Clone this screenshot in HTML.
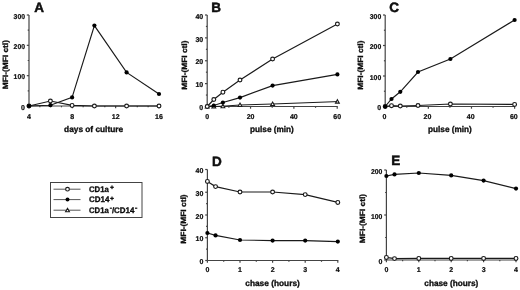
<!DOCTYPE html>
<html><head><meta charset="utf-8"><style>
html,body{margin:0;padding:0;background:#fff;}
svg{display:block;will-change:transform;}
text{font-family:"Liberation Sans",sans-serif;fill:#111;text-rendering:geometricPrecision;}
</style></head><body>
<svg width="520" height="290" viewBox="0 0 520 290">
<rect width="520" height="290" fill="#fff"/>
<text x="34.30" y="11.60" font-size="13.5" text-anchor="start" font-weight="bold" stroke="#000" stroke-width="0.45">A</text>
<line x1="29.00" y1="15.00" x2="29.00" y2="106.00" stroke="#444" stroke-width="1.2"/>
<line x1="26.80" y1="106.00" x2="29.00" y2="106.00" stroke="#444" stroke-width="1.2"/>
<line x1="26.80" y1="75.67" x2="29.00" y2="75.67" stroke="#444" stroke-width="1.2"/>
<line x1="26.80" y1="45.33" x2="29.00" y2="45.33" stroke="#444" stroke-width="1.2"/>
<line x1="26.80" y1="15.00" x2="29.00" y2="15.00" stroke="#444" stroke-width="1.2"/>
<line x1="27.70" y1="90.83" x2="29.00" y2="90.83" stroke="#444" stroke-width="1.2"/>
<line x1="27.70" y1="60.50" x2="29.00" y2="60.50" stroke="#444" stroke-width="1.2"/>
<line x1="27.70" y1="30.17" x2="29.00" y2="30.17" stroke="#444" stroke-width="1.2"/>
<line x1="29.00" y1="106.00" x2="159.46" y2="106.00" stroke="#444" stroke-width="1.2"/>
<line x1="29.00" y1="106.00" x2="29.00" y2="108.20" stroke="#444" stroke-width="1.2"/>
<line x1="72.32" y1="106.00" x2="72.32" y2="108.20" stroke="#444" stroke-width="1.2"/>
<line x1="115.64" y1="106.00" x2="115.64" y2="108.20" stroke="#444" stroke-width="1.2"/>
<line x1="158.96" y1="106.00" x2="158.96" y2="108.20" stroke="#444" stroke-width="1.2"/>
<line x1="39.83" y1="106.00" x2="39.83" y2="107.30" stroke="#444" stroke-width="1.2"/>
<line x1="50.66" y1="106.00" x2="50.66" y2="107.30" stroke="#444" stroke-width="1.2"/>
<line x1="61.49" y1="106.00" x2="61.49" y2="107.30" stroke="#444" stroke-width="1.2"/>
<line x1="83.15" y1="106.00" x2="83.15" y2="107.30" stroke="#444" stroke-width="1.2"/>
<line x1="93.98" y1="106.00" x2="93.98" y2="107.30" stroke="#444" stroke-width="1.2"/>
<line x1="104.81" y1="106.00" x2="104.81" y2="107.30" stroke="#444" stroke-width="1.2"/>
<line x1="126.47" y1="106.00" x2="126.47" y2="107.30" stroke="#444" stroke-width="1.2"/>
<line x1="137.30" y1="106.00" x2="137.30" y2="107.30" stroke="#444" stroke-width="1.2"/>
<line x1="148.13" y1="106.00" x2="148.13" y2="107.30" stroke="#444" stroke-width="1.2"/>
<text x="25.00" y="109.70" font-size="7.0" text-anchor="end" font-weight="bold" stroke="#000" stroke-width="0.22">0</text>
<text x="25.00" y="79.37" font-size="7.0" text-anchor="end" font-weight="bold" textLength="11.4" lengthAdjust="spacingAndGlyphs" stroke="#000" stroke-width="0.22">100</text>
<text x="25.00" y="49.03" font-size="7.0" text-anchor="end" font-weight="bold" textLength="11.4" lengthAdjust="spacingAndGlyphs" stroke="#000" stroke-width="0.22">200</text>
<text x="25.00" y="18.70" font-size="7.0" text-anchor="end" font-weight="bold" textLength="11.4" lengthAdjust="spacingAndGlyphs" stroke="#000" stroke-width="0.22">300</text>
<text x="29.00" y="118.80" font-size="7.0" text-anchor="middle" font-weight="bold" stroke="#000" stroke-width="0.22">4</text>
<text x="72.32" y="118.80" font-size="7.0" text-anchor="middle" font-weight="bold" stroke="#000" stroke-width="0.22">8</text>
<text x="115.64" y="118.80" font-size="7.0" text-anchor="middle" font-weight="bold" textLength="7.8" lengthAdjust="spacingAndGlyphs" stroke="#000" stroke-width="0.22">12</text>
<text x="158.96" y="118.80" font-size="7.0" text-anchor="middle" font-weight="bold" textLength="7.8" lengthAdjust="spacingAndGlyphs" stroke="#000" stroke-width="0.22">16</text>
<text x="64.10" y="132.20" font-size="8.3" text-anchor="start" font-weight="bold" textLength="59" lengthAdjust="spacingAndGlyphs" stroke="#000" stroke-width="0.3">days of culture</text>
<text transform="translate(7.60,64.65) rotate(-90)" font-size="7.6" font-weight="bold" stroke="#000" stroke-width="0.3" text-anchor="middle" textLength="49.2" lengthAdjust="spacingAndGlyphs">MFI-(MFI ctl)</text>
<polyline points="29.00,106.00 50.40,101.00 72.10,105.40 94.40,106.00 126.60,106.00 159.00,106.00" fill="none" stroke="#1a1a1a" stroke-width="1.15"/>
<polyline points="29.00,106.00 50.40,105.20 72.10,97.40 94.40,25.60 126.60,72.40 159.00,94.00" fill="none" stroke="#1a1a1a" stroke-width="1.15"/>
<circle cx="29.00" cy="106.00" r="1.9" fill="#fff" stroke="#1a1a1a" stroke-width="1.15"/>
<circle cx="50.40" cy="101.00" r="1.9" fill="#fff" stroke="#1a1a1a" stroke-width="1.15"/>
<circle cx="72.10" cy="105.40" r="1.9" fill="#fff" stroke="#1a1a1a" stroke-width="1.15"/>
<circle cx="94.40" cy="106.00" r="1.9" fill="#fff" stroke="#1a1a1a" stroke-width="1.15"/>
<circle cx="126.60" cy="106.00" r="1.9" fill="#fff" stroke="#1a1a1a" stroke-width="1.15"/>
<circle cx="159.00" cy="106.00" r="1.9" fill="#fff" stroke="#1a1a1a" stroke-width="1.15"/>
<circle cx="29.00" cy="106.00" r="2.1" fill="#000"/>
<circle cx="50.40" cy="105.20" r="2.1" fill="#000"/>
<circle cx="72.10" cy="97.40" r="2.1" fill="#000"/>
<circle cx="94.40" cy="25.60" r="2.1" fill="#000"/>
<circle cx="126.60" cy="72.40" r="2.1" fill="#000"/>
<circle cx="159.00" cy="94.00" r="2.1" fill="#000"/>
<text x="211.30" y="11.60" font-size="13.5" text-anchor="start" font-weight="bold" stroke="#000" stroke-width="0.45">B</text>
<line x1="207.20" y1="15.00" x2="207.20" y2="106.50" stroke="#444" stroke-width="1.2"/>
<line x1="205.00" y1="106.50" x2="207.20" y2="106.50" stroke="#444" stroke-width="1.2"/>
<line x1="205.00" y1="83.62" x2="207.20" y2="83.62" stroke="#444" stroke-width="1.2"/>
<line x1="205.00" y1="60.75" x2="207.20" y2="60.75" stroke="#444" stroke-width="1.2"/>
<line x1="205.00" y1="37.88" x2="207.20" y2="37.88" stroke="#444" stroke-width="1.2"/>
<line x1="205.00" y1="15.00" x2="207.20" y2="15.00" stroke="#444" stroke-width="1.2"/>
<line x1="205.90" y1="95.06" x2="207.20" y2="95.06" stroke="#444" stroke-width="1.2"/>
<line x1="205.90" y1="72.19" x2="207.20" y2="72.19" stroke="#444" stroke-width="1.2"/>
<line x1="205.90" y1="49.31" x2="207.20" y2="49.31" stroke="#444" stroke-width="1.2"/>
<line x1="205.90" y1="26.44" x2="207.20" y2="26.44" stroke="#444" stroke-width="1.2"/>
<line x1="207.20" y1="106.50" x2="337.72" y2="106.50" stroke="#444" stroke-width="1.2"/>
<line x1="207.20" y1="106.50" x2="207.20" y2="108.70" stroke="#444" stroke-width="1.2"/>
<line x1="250.54" y1="106.50" x2="250.54" y2="108.70" stroke="#444" stroke-width="1.2"/>
<line x1="293.88" y1="106.50" x2="293.88" y2="108.70" stroke="#444" stroke-width="1.2"/>
<line x1="337.22" y1="106.50" x2="337.22" y2="108.70" stroke="#444" stroke-width="1.2"/>
<line x1="228.87" y1="106.50" x2="228.87" y2="107.80" stroke="#444" stroke-width="1.2"/>
<line x1="272.21" y1="106.50" x2="272.21" y2="107.80" stroke="#444" stroke-width="1.2"/>
<line x1="315.55" y1="106.50" x2="315.55" y2="107.80" stroke="#444" stroke-width="1.2"/>
<text x="203.20" y="110.20" font-size="7.0" text-anchor="end" font-weight="bold" stroke="#000" stroke-width="0.22">0</text>
<text x="203.20" y="87.33" font-size="7.0" text-anchor="end" font-weight="bold" textLength="7.8" lengthAdjust="spacingAndGlyphs" stroke="#000" stroke-width="0.22">10</text>
<text x="203.20" y="64.45" font-size="7.0" text-anchor="end" font-weight="bold" textLength="7.8" lengthAdjust="spacingAndGlyphs" stroke="#000" stroke-width="0.22">20</text>
<text x="203.20" y="41.58" font-size="7.0" text-anchor="end" font-weight="bold" textLength="7.8" lengthAdjust="spacingAndGlyphs" stroke="#000" stroke-width="0.22">30</text>
<text x="203.20" y="18.70" font-size="7.0" text-anchor="end" font-weight="bold" textLength="7.8" lengthAdjust="spacingAndGlyphs" stroke="#000" stroke-width="0.22">40</text>
<text x="207.20" y="118.70" font-size="7.0" text-anchor="middle" font-weight="bold" stroke="#000" stroke-width="0.22">0</text>
<text x="250.54" y="118.70" font-size="7.0" text-anchor="middle" font-weight="bold" textLength="7.8" lengthAdjust="spacingAndGlyphs" stroke="#000" stroke-width="0.22">20</text>
<text x="293.88" y="118.70" font-size="7.0" text-anchor="middle" font-weight="bold" textLength="7.8" lengthAdjust="spacingAndGlyphs" stroke="#000" stroke-width="0.22">40</text>
<text x="337.22" y="118.70" font-size="7.0" text-anchor="middle" font-weight="bold" textLength="7.8" lengthAdjust="spacingAndGlyphs" stroke="#000" stroke-width="0.22">60</text>
<text x="250.00" y="132.40" font-size="8.3" text-anchor="start" font-weight="bold" textLength="43.8" lengthAdjust="spacingAndGlyphs" stroke="#000" stroke-width="0.3">pulse (min)</text>
<text transform="translate(187.00,65.15) rotate(-90)" font-size="7.6" font-weight="bold" stroke="#000" stroke-width="0.3" text-anchor="middle" textLength="49.2" lengthAdjust="spacingAndGlyphs">MFI-(MFI ctl)</text>
<polyline points="207.20,106.50 213.80,106.50 222.90,106.20 240.00,105.00 272.60,104.00 337.40,101.60" fill="none" stroke="#1a1a1a" stroke-width="1.0"/>
<polyline points="207.20,106.50 213.80,105.50 222.90,102.50 240.00,97.60 272.60,85.60 337.40,74.40" fill="none" stroke="#1a1a1a" stroke-width="1.15"/>
<polyline points="207.20,106.50 213.80,99.50 222.90,92.20 240.00,80.00 272.60,59.00 337.40,24.00" fill="none" stroke="#1a1a1a" stroke-width="1.15"/>
<path d="M207.20 104.60 L209.10 108.02 L205.30 108.02 Z" fill="#fff" stroke="#1a1a1a" stroke-width="1.1"/>
<path d="M213.80 104.60 L215.70 108.02 L211.90 108.02 Z" fill="#fff" stroke="#1a1a1a" stroke-width="1.1"/>
<path d="M222.90 104.30 L224.80 107.72 L221.00 107.72 Z" fill="#fff" stroke="#1a1a1a" stroke-width="1.1"/>
<path d="M240.00 103.10 L241.90 106.52 L238.10 106.52 Z" fill="#fff" stroke="#1a1a1a" stroke-width="1.1"/>
<path d="M272.60 102.10 L274.50 105.52 L270.70 105.52 Z" fill="#fff" stroke="#1a1a1a" stroke-width="1.1"/>
<path d="M337.40 99.70 L339.30 103.12 L335.50 103.12 Z" fill="#fff" stroke="#1a1a1a" stroke-width="1.1"/>
<circle cx="207.20" cy="106.50" r="2.1" fill="#000"/>
<circle cx="213.80" cy="105.50" r="2.1" fill="#000"/>
<circle cx="222.90" cy="102.50" r="2.1" fill="#000"/>
<circle cx="240.00" cy="97.60" r="2.1" fill="#000"/>
<circle cx="272.60" cy="85.60" r="2.1" fill="#000"/>
<circle cx="337.40" cy="74.40" r="2.1" fill="#000"/>
<circle cx="207.20" cy="106.50" r="1.9" fill="#fff" stroke="#1a1a1a" stroke-width="1.15"/>
<circle cx="213.80" cy="99.50" r="1.9" fill="#fff" stroke="#1a1a1a" stroke-width="1.15"/>
<circle cx="222.90" cy="92.20" r="1.9" fill="#fff" stroke="#1a1a1a" stroke-width="1.15"/>
<circle cx="240.00" cy="80.00" r="1.9" fill="#fff" stroke="#1a1a1a" stroke-width="1.15"/>
<circle cx="272.60" cy="59.00" r="1.9" fill="#fff" stroke="#1a1a1a" stroke-width="1.15"/>
<circle cx="337.40" cy="24.00" r="1.9" fill="#fff" stroke="#1a1a1a" stroke-width="1.15"/>
<text x="389.30" y="11.70" font-size="13.5" text-anchor="start" font-weight="bold" stroke="#000" stroke-width="0.45">C</text>
<line x1="385.20" y1="15.00" x2="385.20" y2="106.50" stroke="#444" stroke-width="1.2"/>
<line x1="383.00" y1="106.50" x2="385.20" y2="106.50" stroke="#444" stroke-width="1.2"/>
<line x1="383.00" y1="76.00" x2="385.20" y2="76.00" stroke="#444" stroke-width="1.2"/>
<line x1="383.00" y1="45.50" x2="385.20" y2="45.50" stroke="#444" stroke-width="1.2"/>
<line x1="383.00" y1="15.00" x2="385.20" y2="15.00" stroke="#444" stroke-width="1.2"/>
<line x1="383.90" y1="91.25" x2="385.20" y2="91.25" stroke="#444" stroke-width="1.2"/>
<line x1="383.90" y1="60.75" x2="385.20" y2="60.75" stroke="#444" stroke-width="1.2"/>
<line x1="383.90" y1="30.25" x2="385.20" y2="30.25" stroke="#444" stroke-width="1.2"/>
<line x1="385.20" y1="106.50" x2="515.12" y2="106.50" stroke="#444" stroke-width="1.2"/>
<line x1="385.20" y1="106.50" x2="385.20" y2="108.70" stroke="#444" stroke-width="1.2"/>
<line x1="428.34" y1="106.50" x2="428.34" y2="108.70" stroke="#444" stroke-width="1.2"/>
<line x1="471.48" y1="106.50" x2="471.48" y2="108.70" stroke="#444" stroke-width="1.2"/>
<line x1="514.62" y1="106.50" x2="514.62" y2="108.70" stroke="#444" stroke-width="1.2"/>
<line x1="406.77" y1="106.50" x2="406.77" y2="107.80" stroke="#444" stroke-width="1.2"/>
<line x1="449.91" y1="106.50" x2="449.91" y2="107.80" stroke="#444" stroke-width="1.2"/>
<line x1="493.05" y1="106.50" x2="493.05" y2="107.80" stroke="#444" stroke-width="1.2"/>
<text x="381.20" y="110.20" font-size="7.0" text-anchor="end" font-weight="bold" stroke="#000" stroke-width="0.22">0</text>
<text x="381.20" y="79.70" font-size="7.0" text-anchor="end" font-weight="bold" textLength="11.4" lengthAdjust="spacingAndGlyphs" stroke="#000" stroke-width="0.22">100</text>
<text x="381.20" y="49.20" font-size="7.0" text-anchor="end" font-weight="bold" textLength="11.4" lengthAdjust="spacingAndGlyphs" stroke="#000" stroke-width="0.22">200</text>
<text x="381.20" y="18.70" font-size="7.0" text-anchor="end" font-weight="bold" textLength="11.4" lengthAdjust="spacingAndGlyphs" stroke="#000" stroke-width="0.22">300</text>
<text x="384.40" y="118.50" font-size="7.0" text-anchor="middle" font-weight="bold" stroke="#000" stroke-width="0.22">0</text>
<text x="427.54" y="118.50" font-size="7.0" text-anchor="middle" font-weight="bold" textLength="7.8" lengthAdjust="spacingAndGlyphs" stroke="#000" stroke-width="0.22">20</text>
<text x="470.68" y="118.50" font-size="7.0" text-anchor="middle" font-weight="bold" textLength="7.8" lengthAdjust="spacingAndGlyphs" stroke="#000" stroke-width="0.22">40</text>
<text x="513.82" y="118.50" font-size="7.0" text-anchor="middle" font-weight="bold" textLength="7.8" lengthAdjust="spacingAndGlyphs" stroke="#000" stroke-width="0.22">60</text>
<text x="428.00" y="132.40" font-size="8.3" text-anchor="start" font-weight="bold" textLength="43.8" lengthAdjust="spacingAndGlyphs" stroke="#000" stroke-width="0.3">pulse (min)</text>
<text transform="translate(363.40,65.15) rotate(-90)" font-size="7.6" font-weight="bold" stroke="#000" stroke-width="0.3" text-anchor="middle" textLength="49.2" lengthAdjust="spacingAndGlyphs">MFI-(MFI ctl)</text>
<polyline points="385.20,106.50 391.50,105.70 400.30,106.00 418.00,105.50 450.40,104.00 514.60,104.40" fill="none" stroke="#1a1a1a" stroke-width="1.15"/>
<polyline points="385.20,106.50 391.50,99.00 400.30,91.80 418.00,72.00 450.40,59.00 514.60,20.00" fill="none" stroke="#1a1a1a" stroke-width="1.15"/>
<circle cx="385.20" cy="106.50" r="1.9" fill="#fff" stroke="#1a1a1a" stroke-width="1.15"/>
<circle cx="391.50" cy="105.70" r="1.9" fill="#fff" stroke="#1a1a1a" stroke-width="1.15"/>
<circle cx="400.30" cy="106.00" r="1.9" fill="#fff" stroke="#1a1a1a" stroke-width="1.15"/>
<circle cx="418.00" cy="105.50" r="1.9" fill="#fff" stroke="#1a1a1a" stroke-width="1.15"/>
<circle cx="450.40" cy="104.00" r="1.9" fill="#fff" stroke="#1a1a1a" stroke-width="1.15"/>
<circle cx="514.60" cy="104.40" r="1.9" fill="#fff" stroke="#1a1a1a" stroke-width="1.15"/>
<circle cx="385.20" cy="106.50" r="2.1" fill="#000"/>
<circle cx="391.50" cy="99.00" r="2.1" fill="#000"/>
<circle cx="400.30" cy="91.80" r="2.1" fill="#000"/>
<circle cx="418.00" cy="72.00" r="2.1" fill="#000"/>
<circle cx="450.40" cy="59.00" r="2.1" fill="#000"/>
<circle cx="514.60" cy="20.00" r="2.1" fill="#000"/>
<text x="212.00" y="165.80" font-size="13.5" text-anchor="start" font-weight="bold" stroke="#000" stroke-width="0.45">D</text>
<line x1="207.40" y1="169.50" x2="207.40" y2="260.50" stroke="#444" stroke-width="1.2"/>
<line x1="205.20" y1="260.50" x2="207.40" y2="260.50" stroke="#444" stroke-width="1.2"/>
<line x1="205.20" y1="237.75" x2="207.40" y2="237.75" stroke="#444" stroke-width="1.2"/>
<line x1="205.20" y1="215.00" x2="207.40" y2="215.00" stroke="#444" stroke-width="1.2"/>
<line x1="205.20" y1="192.25" x2="207.40" y2="192.25" stroke="#444" stroke-width="1.2"/>
<line x1="205.20" y1="169.50" x2="207.40" y2="169.50" stroke="#444" stroke-width="1.2"/>
<line x1="206.10" y1="249.12" x2="207.40" y2="249.12" stroke="#444" stroke-width="1.2"/>
<line x1="206.10" y1="226.38" x2="207.40" y2="226.38" stroke="#444" stroke-width="1.2"/>
<line x1="206.10" y1="203.62" x2="207.40" y2="203.62" stroke="#444" stroke-width="1.2"/>
<line x1="206.10" y1="180.88" x2="207.40" y2="180.88" stroke="#444" stroke-width="1.2"/>
<line x1="207.40" y1="260.50" x2="338.30" y2="260.50" stroke="#444" stroke-width="1.2"/>
<line x1="207.40" y1="260.50" x2="207.40" y2="262.70" stroke="#444" stroke-width="1.2"/>
<line x1="240.00" y1="260.50" x2="240.00" y2="262.70" stroke="#444" stroke-width="1.2"/>
<line x1="272.60" y1="260.50" x2="272.60" y2="262.70" stroke="#444" stroke-width="1.2"/>
<line x1="305.20" y1="260.50" x2="305.20" y2="262.70" stroke="#444" stroke-width="1.2"/>
<line x1="337.80" y1="260.50" x2="337.80" y2="262.70" stroke="#444" stroke-width="1.2"/>
<line x1="223.70" y1="260.50" x2="223.70" y2="261.80" stroke="#444" stroke-width="1.2"/>
<line x1="256.30" y1="260.50" x2="256.30" y2="261.80" stroke="#444" stroke-width="1.2"/>
<line x1="288.90" y1="260.50" x2="288.90" y2="261.80" stroke="#444" stroke-width="1.2"/>
<line x1="321.50" y1="260.50" x2="321.50" y2="261.80" stroke="#444" stroke-width="1.2"/>
<text x="203.40" y="264.20" font-size="7.0" text-anchor="end" font-weight="bold" stroke="#000" stroke-width="0.22">0</text>
<text x="203.40" y="241.45" font-size="7.0" text-anchor="end" font-weight="bold" textLength="7.8" lengthAdjust="spacingAndGlyphs" stroke="#000" stroke-width="0.22">10</text>
<text x="203.40" y="218.70" font-size="7.0" text-anchor="end" font-weight="bold" textLength="7.8" lengthAdjust="spacingAndGlyphs" stroke="#000" stroke-width="0.22">20</text>
<text x="203.40" y="195.95" font-size="7.0" text-anchor="end" font-weight="bold" textLength="7.8" lengthAdjust="spacingAndGlyphs" stroke="#000" stroke-width="0.22">30</text>
<text x="203.40" y="173.20" font-size="7.0" text-anchor="end" font-weight="bold" textLength="7.8" lengthAdjust="spacingAndGlyphs" stroke="#000" stroke-width="0.22">40</text>
<text x="207.40" y="272.20" font-size="7.0" text-anchor="middle" font-weight="bold" stroke="#000" stroke-width="0.22">0</text>
<text x="240.00" y="272.20" font-size="7.0" text-anchor="middle" font-weight="bold" stroke="#000" stroke-width="0.22">1</text>
<text x="272.60" y="272.20" font-size="7.0" text-anchor="middle" font-weight="bold" stroke="#000" stroke-width="0.22">2</text>
<text x="305.20" y="272.20" font-size="7.0" text-anchor="middle" font-weight="bold" stroke="#000" stroke-width="0.22">3</text>
<text x="337.80" y="272.20" font-size="7.0" text-anchor="middle" font-weight="bold" stroke="#000" stroke-width="0.22">4</text>
<text x="245.30" y="286.40" font-size="8.3" text-anchor="start" font-weight="bold" textLength="54.5" lengthAdjust="spacingAndGlyphs" stroke="#000" stroke-width="0.3">chase (hours)</text>
<text transform="translate(186.40,219.05) rotate(-90)" font-size="7.6" font-weight="bold" stroke="#000" stroke-width="0.3" text-anchor="middle" textLength="49.2" lengthAdjust="spacingAndGlyphs">MFI-(MFI ctl)</text>
<polyline points="207.40,181.40 215.55,186.60 240.00,192.00 272.60,192.00 305.20,194.60 337.80,202.40" fill="none" stroke="#1a1a1a" stroke-width="1.15"/>
<polyline points="207.40,233.00 215.55,235.40 240.00,240.00 272.60,240.60 305.20,240.60 337.80,241.60" fill="none" stroke="#1a1a1a" stroke-width="1.15"/>
<circle cx="207.40" cy="181.40" r="1.9" fill="#fff" stroke="#1a1a1a" stroke-width="1.15"/>
<circle cx="215.55" cy="186.60" r="1.9" fill="#fff" stroke="#1a1a1a" stroke-width="1.15"/>
<circle cx="240.00" cy="192.00" r="1.9" fill="#fff" stroke="#1a1a1a" stroke-width="1.15"/>
<circle cx="272.60" cy="192.00" r="1.9" fill="#fff" stroke="#1a1a1a" stroke-width="1.15"/>
<circle cx="305.20" cy="194.60" r="1.9" fill="#fff" stroke="#1a1a1a" stroke-width="1.15"/>
<circle cx="337.80" cy="202.40" r="1.9" fill="#fff" stroke="#1a1a1a" stroke-width="1.15"/>
<circle cx="207.40" cy="233.00" r="2.1" fill="#000"/>
<circle cx="215.55" cy="235.40" r="2.1" fill="#000"/>
<circle cx="240.00" cy="240.00" r="2.1" fill="#000"/>
<circle cx="272.60" cy="240.60" r="2.1" fill="#000"/>
<circle cx="305.20" cy="240.60" r="2.1" fill="#000"/>
<circle cx="337.80" cy="241.60" r="2.1" fill="#000"/>
<text x="391.30" y="164.90" font-size="13.5" text-anchor="start" font-weight="bold" stroke="#000" stroke-width="0.45">E</text>
<line x1="386.40" y1="170.00" x2="386.40" y2="260.00" stroke="#444" stroke-width="1.2"/>
<line x1="384.20" y1="260.00" x2="386.40" y2="260.00" stroke="#444" stroke-width="1.2"/>
<line x1="384.20" y1="215.00" x2="386.40" y2="215.00" stroke="#444" stroke-width="1.2"/>
<line x1="384.20" y1="170.00" x2="386.40" y2="170.00" stroke="#444" stroke-width="1.2"/>
<line x1="385.10" y1="237.50" x2="386.40" y2="237.50" stroke="#444" stroke-width="1.2"/>
<line x1="385.10" y1="192.50" x2="386.40" y2="192.50" stroke="#444" stroke-width="1.2"/>
<line x1="386.40" y1="260.00" x2="516.50" y2="260.00" stroke="#444" stroke-width="1.2"/>
<line x1="386.40" y1="260.00" x2="386.40" y2="262.20" stroke="#444" stroke-width="1.2"/>
<line x1="418.80" y1="260.00" x2="418.80" y2="262.20" stroke="#444" stroke-width="1.2"/>
<line x1="451.20" y1="260.00" x2="451.20" y2="262.20" stroke="#444" stroke-width="1.2"/>
<line x1="483.60" y1="260.00" x2="483.60" y2="262.20" stroke="#444" stroke-width="1.2"/>
<line x1="516.00" y1="260.00" x2="516.00" y2="262.20" stroke="#444" stroke-width="1.2"/>
<line x1="402.60" y1="260.00" x2="402.60" y2="261.30" stroke="#444" stroke-width="1.2"/>
<line x1="435.00" y1="260.00" x2="435.00" y2="261.30" stroke="#444" stroke-width="1.2"/>
<line x1="467.40" y1="260.00" x2="467.40" y2="261.30" stroke="#444" stroke-width="1.2"/>
<line x1="499.80" y1="260.00" x2="499.80" y2="261.30" stroke="#444" stroke-width="1.2"/>
<text x="382.40" y="263.70" font-size="7.0" text-anchor="end" font-weight="bold" stroke="#000" stroke-width="0.22">0</text>
<text x="382.40" y="218.70" font-size="7.0" text-anchor="end" font-weight="bold" textLength="11.4" lengthAdjust="spacingAndGlyphs" stroke="#000" stroke-width="0.22">100</text>
<text x="382.40" y="173.70" font-size="7.0" text-anchor="end" font-weight="bold" textLength="11.4" lengthAdjust="spacingAndGlyphs" stroke="#000" stroke-width="0.22">200</text>
<text x="386.40" y="272.00" font-size="7.0" text-anchor="middle" font-weight="bold" stroke="#000" stroke-width="0.22">0</text>
<text x="418.80" y="272.00" font-size="7.0" text-anchor="middle" font-weight="bold" stroke="#000" stroke-width="0.22">1</text>
<text x="451.20" y="272.00" font-size="7.0" text-anchor="middle" font-weight="bold" stroke="#000" stroke-width="0.22">2</text>
<text x="483.60" y="272.00" font-size="7.0" text-anchor="middle" font-weight="bold" stroke="#000" stroke-width="0.22">3</text>
<text x="516.00" y="272.00" font-size="7.0" text-anchor="middle" font-weight="bold" stroke="#000" stroke-width="0.22">4</text>
<text x="424.30" y="285.70" font-size="8.3" text-anchor="start" font-weight="bold" textLength="54" lengthAdjust="spacingAndGlyphs" stroke="#000" stroke-width="0.3">chase (hours)</text>
<text transform="translate(365.10,218.55) rotate(-90)" font-size="7.6" font-weight="bold" stroke="#000" stroke-width="0.3" text-anchor="middle" textLength="49.2" lengthAdjust="spacingAndGlyphs">MFI-(MFI ctl)</text>
<polyline points="386.40,257.40 394.50,258.60 418.80,258.40 451.20,258.40 483.60,258.40 516.00,258.40" fill="none" stroke="#1a1a1a" stroke-width="1.15"/>
<polyline points="386.40,176.00 394.50,174.40 418.80,173.00 451.20,175.40 483.60,180.60 516.00,188.60" fill="none" stroke="#1a1a1a" stroke-width="1.15"/>
<circle cx="386.40" cy="257.40" r="1.9" fill="#fff" stroke="#1a1a1a" stroke-width="1.15"/>
<circle cx="394.50" cy="258.60" r="1.9" fill="#fff" stroke="#1a1a1a" stroke-width="1.15"/>
<circle cx="418.80" cy="258.40" r="1.9" fill="#fff" stroke="#1a1a1a" stroke-width="1.15"/>
<circle cx="451.20" cy="258.40" r="1.9" fill="#fff" stroke="#1a1a1a" stroke-width="1.15"/>
<circle cx="483.60" cy="258.40" r="1.9" fill="#fff" stroke="#1a1a1a" stroke-width="1.15"/>
<circle cx="516.00" cy="258.40" r="1.9" fill="#fff" stroke="#1a1a1a" stroke-width="1.15"/>
<circle cx="386.40" cy="176.00" r="2.1" fill="#000"/>
<circle cx="394.50" cy="174.40" r="2.1" fill="#000"/>
<circle cx="418.80" cy="173.00" r="2.1" fill="#000"/>
<circle cx="451.20" cy="175.40" r="2.1" fill="#000"/>
<circle cx="483.60" cy="180.60" r="2.1" fill="#000"/>
<circle cx="516.00" cy="188.60" r="2.1" fill="#000"/>
<rect x="50.5" y="182.5" width="91.5" height="35" fill="none" stroke="#444" stroke-width="1"/>
<line x1="53.50" y1="189.20" x2="80.50" y2="189.20" stroke="#555" stroke-width="1.0"/>
<line x1="53.50" y1="199.60" x2="80.50" y2="199.60" stroke="#555" stroke-width="1.0"/>
<line x1="53.50" y1="210.20" x2="80.50" y2="210.20" stroke="#555" stroke-width="1.0"/>
<circle cx="67.50" cy="189.20" r="1.85" fill="#fff" stroke="#1a1a1a" stroke-width="1.15"/>
<circle cx="67.50" cy="199.60" r="2.0" fill="#000"/>
<path d="M67.50 208.30 L69.40 211.72 L65.60 211.72 Z" fill="#fff" stroke="#1a1a1a" stroke-width="1.1"/>
<text x="89" y="191.7" font-size="8.0" font-weight="bold" stroke="#000" stroke-width="0.3" textLength="19.9" lengthAdjust="spacingAndGlyphs">CD1a</text>
<rect x="110.15" y="186.70" width="3.7" height="1.2" fill="#111"/><rect x="111.40" y="185.45" width="1.2" height="3.7" fill="#111"/>
<text x="89" y="201.9" font-size="8.0" font-weight="bold" stroke="#000" stroke-width="0.3">CD14</text>
<rect x="110.15" y="197.80" width="3.7" height="1.2" fill="#111"/><rect x="111.40" y="196.55" width="1.2" height="3.7" fill="#111"/>
<text x="89" y="212.8" font-size="8.0" font-weight="bold" stroke="#000" stroke-width="0.3" textLength="19.7" lengthAdjust="spacingAndGlyphs">CD1a</text>
<rect x="109.8" y="207.6" width="2.1" height="1.2" fill="#111"/>
<text x="111.9" y="212.8" font-size="8.0" font-weight="bold" stroke="#000" stroke-width="0.3" textLength="22.6" lengthAdjust="spacingAndGlyphs">/CD14</text>
<rect x="135.0" y="207.6" width="2.3" height="1.2" fill="#111"/>
</svg>
</body></html>
